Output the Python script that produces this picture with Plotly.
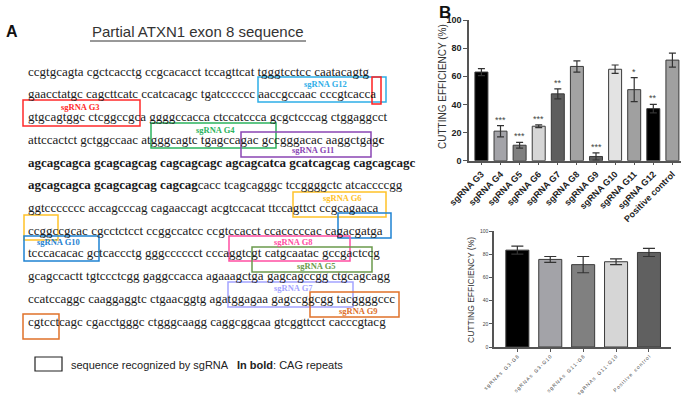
import plotly.graph_objects as go

W, H = 685, 400

# ---------------- data ----------------
seq_lines = [
    "ccgtgcagta cgctcacctg ccgcacacct tccagttcat tgggtcctcc caatacagtg",
    "gaacctatgc cagcttcatc ccatcacagc tgatcccccc aaccgccaac cccgtcacca",
    "gtgcagtggc ctcggccgca ggggccacca ctccatccca gcgctcccag ctggaggcct",
    "attccactct gctggccaac atgggcagtc tgagccagac gccgggacac aaggctgag<b>c</b>",
    "<b>agcagcagca gcagcagcag cagcagcagc agcagcatca gcatcagcag cagcagcagc</b>",
    "<b>agcagcagca gcagcagcag cagcag</b>cacc tcagcagggc tccggggctc atcaccccgg",
    "ggtccccccc accagcccag cagaaccagt acgtccacat ttccagttct ccgcagaaca",
    "ccggccgcac cgcctctcct ccggccatcc ccgtccacct ccacccccac cagacgatga",
    "tcccacacac gctcaccctg gggcccccct cccaggtcgt catgcaatac gccgactccg",
    "gcagccactt tgtccctcgg gaggccacca agaaagctga gagcagccgg ctgcagcagg",
    "ccatccaggc caaggaggtc ctgaacggtg agatggagaa gagccggcgg tacggggccc",
    "cgtcctcagc cgacctgggc ctgggcaagg caggcggcaa gtcggttcct cacccgtacg",
]

single_labels = ["sgRNA G3", "sgRNA G4", "sgRNA G5", "sgRNA G6", "sgRNA G7", "sgRNA G8",
                 "sgRNA G9", "sgRNA G10", "sgRNA G11", "sgRNA G12", "Positive control"]
single_values = [63, 21, 11, 24.5, 47.5, 67, 3, 65, 50.5, 37, 71.5]
single_errors = [2.5, 4, 2, 1, 3.5, 4, 2.5, 3, 8.5, 3, 5]
single_stars = ["", "***", "***", "***", "**", "", "***", "", "*", "**", ""]
single_colors = ["#000000", "#a3a3a8", "#808080", "#d6d6d6", "#5e5e5e", "#a3a3a3",
                 "#5e5e5e", "#e3e3e3", "#a0a0a0", "#000000", "#a0a0a0"]

combo_labels = ["sgRNAs G3-G8", "sgRNAs G3-G10", "sgRNAs G11-G8", "sgRNAs G11-G10", "Positive control"]
combo_values = [83.5, 75.5, 71, 73.5, 81.5]
combo_errors = [3.5, 2.5, 7, 2.5, 3.5]
combo_colors = ["#000000", "#a3a3a8", "#808080", "#d6d6d6", "#606060"]

y_ticks = [0, 20, 40, 60, 80, 100]

# sgRNA boxes: (label, colour, x0, y0, x1, y1, label_x, label_y) in pixels
boxes = [
    ("sgRNA G12", "#2eaee8", 258, 77, 386, 102, 325, 84),
    ("", "#ff2020", 372, 77, 381, 104, 0, 0),
    ("sgRNA G3", "#ff2a2a", 23, 100, 140, 126, 80, 107),
    ("sgRNA G4", "#2bb35e", 151, 123, 276, 148, 215, 130),
    ("sgRNA G11", "#8a46b4", 241, 132, 371, 157, 313, 150),
    ("sgRNA G6", "#ffc228", 293, 192, 386, 217, 342, 198),
    ("", "#ffc228", 24, 215, 58, 240, 0, 0),
    ("", "#1f82d2", 338, 213, 391, 238, 0, 0),
    ("sgRNA G10", "#1f82d2", 24, 236, 99, 261, 58, 242),
    ("sgRNA G8", "#ff4fa3", 229, 236, 350, 261, 293, 242),
    ("sgRNA G5", "#6b9a4c", 252, 247, 372, 272, 316, 266),
    ("sgRNA G7", "#a4a4ff", 228, 282, 353, 307, 293, 288),
    ("sgRNA G9", "#e0712a", 310, 292, 399, 317, 358, 311),
    ("", "#e0712a", 23, 314, 59, 339, 0, 0),
]


def px(x):
    return x / W


def py(y):
    return 1 - y / H


def pann(x, y, text, **kw):
    d = dict(x=px(x), y=py(y), xref="paper", yref="paper", text=text, showarrow=False,
             xanchor="center", yanchor="middle")
    d.update(kw)
    return d


def spaced(s):
    return "\u2009".join(ch if ch != " " else "\u2002" for ch in s)


fig = go.Figure()

fig.add_trace(go.Bar(
    x=single_labels, y=single_values,
    marker=dict(color=single_colors, line=dict(color="#3a3a3a", width=1)),
    error_y=dict(type="data", array=single_errors, color="#333333", thickness=1.2, width=3.5),
    width=0.68, xaxis="x", yaxis="y", showlegend=False,
))
fig.add_trace(go.Bar(
    x=combo_labels, y=combo_values,
    marker=dict(color=combo_colors, line=dict(color="#3a3a3a", width=1)),
    error_y=dict(type="data", array=combo_errors, color="#333333", thickness=1.2, width=6),
    width=0.7, xaxis="x2", yaxis="y2", showlegend=False,
))

ann = []
shapes = []

# panel letters & title
ann.append(pann(4, 32, "<b>A</b>", xanchor="left",
                font=dict(family="Liberation Sans", size=16, color="#111")))
ann.append(pann(437, 13, "<b>B</b>", xanchor="left",
                font=dict(family="Liberation Sans", size=17, color="#111")))
ann.append(pann(198, 32, "Partial ATXN1 exon 8 sequence",
                font=dict(family="Liberation Sans", size=15, color="#333")))
shapes.append(dict(type="line", xref="paper", yref="paper", x0=px(90), x1=px(306),
                   y0=py(41), y1=py(41), line=dict(color="#333", width=1)))

# sequence lines
for i, line in enumerate(seq_lines):
    ann.append(pann(26, 71 + i * 22.75, line, xanchor="left",
                    font=dict(family="Liberation Serif", size=13, color="#1a1a1a")))

# sgRNA boxes
for lab, col, x0, y0, x1, y1, lx, ly in boxes:
    shapes.append(dict(type="rect", xref="paper", yref="paper",
                       x0=px(x0), x1=px(x1), y0=py(y0), y1=py(y1),
                       line=dict(color=col, width=1.5)))
    if lab:
        ann.append(pann(lx, ly, "<b>" + lab + "</b>",
                        font=dict(family="Liberation Serif", size=8.5, color=col)))

# legend for panel A
shapes.append(dict(type="rect", xref="paper", yref="paper", x0=px(35), x1=px(62),
                   y0=py(357), y1=py(371), line=dict(color="#222", width=1.2)))
ann.append(pann(69, 365, "sequence recognized by sgRNA", xanchor="left",
                font=dict(family="Liberation Sans", size=11, color="#222")))
ann.append(pann(235, 365, "<b>In bold</b>: CAG repeats", xanchor="left",
                font=dict(family="Liberation Sans", size=11, color="#222")))

# significance stars
for lab, v, e, s in zip(single_labels, single_values, single_errors, single_stars):
    if s:
        ann.append(dict(x=lab, y=v + e, xref="x", yref="y", text=s, showarrow=False,
                        xanchor="center", yanchor="bottom", yshift=-1,
                        font=dict(family="Liberation Sans", size=9, color="#444")))

# y axis titles
ann.append(pann(442, 87, "CUTTING EFFICIENCY (%)", textangle=-90,
                font=dict(family="Liberation Sans", size=10, color="#333")))
ann.append(pann(471, 290, "CUTTING EFFICIENCY (%)", textangle=-90,
                font=dict(family="Liberation Sans", size=8.5, color="#333")))

axis_common = dict(showgrid=False, zeroline=False, showline=True, linecolor="#555",
                   linewidth=1.5, ticks="outside", tickcolor="#555", tickwidth=1.2,
                   automargin=False)

fig.update_layout(
    width=W, height=H,
    margin=dict(l=0, r=0, t=0, b=0, pad=0, autoexpand=False),
    paper_bgcolor="white", plot_bgcolor="white",
    bargap=0.3,
    xaxis=dict(domain=[px(469), px(681)], anchor="y", range=[-0.65, 10.45],
               tickangle=-45, ticklen=3,
               tickfont=dict(family="Liberation Sans", size=9, color="#222", weight="bold"),
               **axis_common),
    yaxis=dict(domain=[py(160.7), py(20)], anchor="x", range=[0, 100],
               tickvals=y_ticks, ticklen=4,
               tickfont=dict(family="Liberation Sans", size=9, color="#222", weight="bold"),
               **axis_common),
    xaxis2=dict(domain=[px(494), px(671)], anchor="y2", range=[-0.71, 4.67],
                tickangle=-45, ticklen=3,
                tickvals=combo_labels, ticktext=[spaced(l) for l in combo_labels],
                tickfont=dict(family="Liberation Sans", size=5, color="#444"),
                **axis_common),
    yaxis2=dict(domain=[py(347), py(231)], anchor="x2", range=[0, 100],
                tickvals=y_ticks, ticklen=3,
                tickfont=dict(family="Liberation Sans", size=5, color="#444"),
                **axis_common),
    annotations=ann,
    shapes=shapes,
)

fig.write_html("out.html", config={"displayModeBar": False},
               post_script="document.body.style.margin='0';")
